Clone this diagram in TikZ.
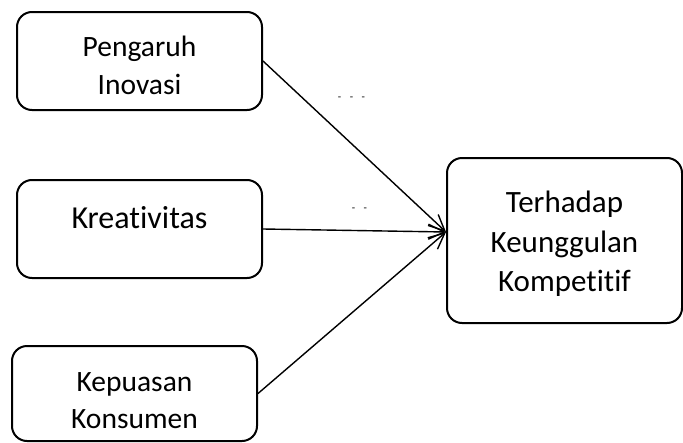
\documentclass[tikz,border=0pt]{standalone}
\usepackage{fontspec}
\setmainfont{Carlito}[Ligatures=NoCommon]
\usetikzlibrary{positioning,arrows.meta}

\begin{document}
\begin{tikzpicture}[x=1pt,y=-1pt,
        varbox/.style={draw=black,line width=2pt,rounded corners=15pt,
          minimum width=245pt,minimum height=98pt,inner sep=0pt},
        mainbox/.style={varbox,minimum width=235pt,minimum height=165pt},
        boxtext/.style={align=center,inner sep=0pt,font=\fontsize{29.5}{38}\selectfont},
        link/.style={draw=black,line width=1.4pt,-{Straight Barb[length=16pt,width=15pt,line width=1.4pt]}},
        dashmark/.style={font=\fontsize{11}{11}\selectfont,inner sep=0pt}]
        \useasboundingbox (0,0) rectangle (683,442);
        \node[varbox] (inovasi) at (139.5,61) {};
        \node[varbox] (kreatif) at (139.5,229) {};
        \node[varbox,minimum height=95pt] (puas) at (134.5,393.5) {};
        \node[mainbox] (unggul) at (564.5,240.5) {};
        % teks di dalam kotak
        \node[boxtext] (inovasiT) at ([yshift=-4pt]inovasi.center) {Pengaruh\\Inovasi};
        \node[boxtext,font=\fontsize{32}{36}\selectfont] (kreatifT) at ([yshift=11pt]kreatif.center) {Kreativitas};
        \node[boxtext,font=\fontsize{29.5}{37}\selectfont] (puasT) at ([yshift=-7.5pt]puas.center) {Kepuasan\\Konsumen};
        \node[boxtext,font=\fontsize{31}{39.5}\selectfont] (unggulT) at ([yshift=-3.5pt]unggul.center) {Terhadap\\Keunggulan\\Kompetitif};
        \coordinate (tip) at ([yshift=8.5pt]unggul.west);
        % panah ke variabel terikat
        \draw[link] (inovasi.east) -- (tip);
        \draw[link] (kreatif.east) -- (tip);
        \draw[link] (puas.east) -- (tip);
        \node[dashmark] (m1) at (351.5,99) {-\hspace{8.5pt}-\hspace{8.5pt}-};
        \node[dashmark] (m2) at (359.5,210) {-\hspace{8.5pt}-};
      \end{tikzpicture}
\end{document}
